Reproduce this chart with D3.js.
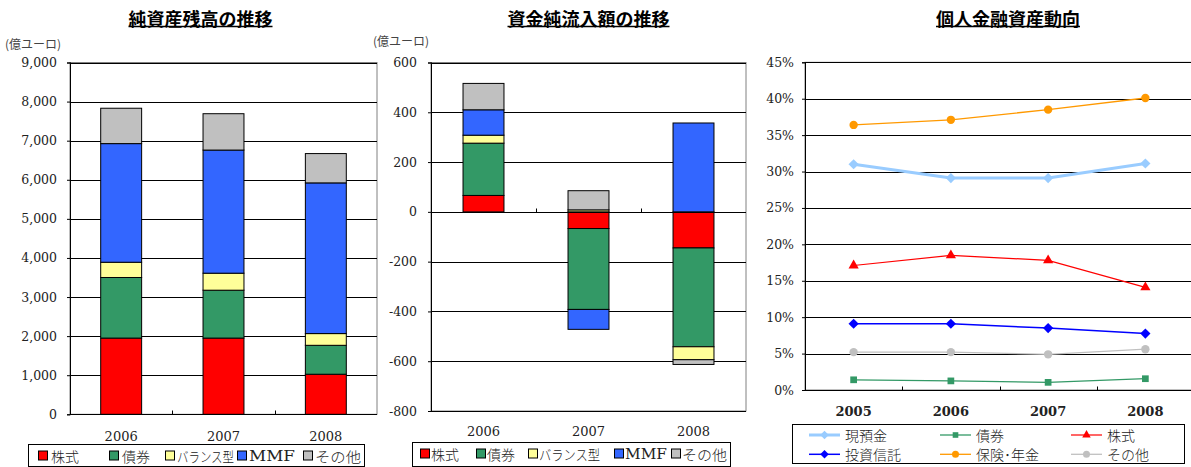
<!DOCTYPE html>
<html><head><meta charset="utf-8">
<script src="https://cdn.jsdelivr.net/npm/d3@7"></script>
<style>
body{margin:0;background:#fff;}
svg{display:block;}
</style></head>
<body>
<svg id="c" width="1191" height="467"></svg>
<script>
// ---------- data ----------
const categories1 = ["2006", "2007", "2008"];
const seriesNames = ["株式", "債券", "バランス型", "MMF", "その他"];
const seriesColors = ["#ff0000", "#339966", "#ffff99", "#3366ff", "#c0c0c0"];
// 純資産残高 (億ユーロ)
const stocks1 = [1950, 1950, 1025];
const bonds1 = [1550, 1225, 740];
const balanced1 = [390, 435, 300];
const mmf1 = [3035, 3150, 3855];
const other1 = [905, 930, 750];
const ticks1 = [0, 1000, 2000, 3000, 4000, 5000, 6000, 7000, 8000, 9000];
// 資金純流入額 (億ユーロ)
const stocks2 = [66, -67, -145];
const bonds2 = [210, -325, -397];
const balanced2 = [32, 8, -52];
const mmf2 = [102, -80, 357];
const other2 = [106, 77, -19];
const ticks2 = [-800, -600, -400, -200, 0, 200, 400, 600];
// 個人金融資産動向 (%)
const years3 = ["2005", "2006", "2007", "2008"];
const lineNames = ["現預金", "債券", "株式", "投資信託", "保険･年金", "その他"];
const cash3 = [31.0, 29.1, 29.1, 31.1];
const bonds3 = [1.4, 1.25, 1.05, 1.55];
const equities3 = [17.1, 18.5, 17.8, 14.1];
const funds3 = [9.1, 9.1, 8.5, 7.75];
const insurance3 = [36.4, 37.1, 38.5, 40.1];
const others3 = [5.2, 5.2, 4.9, 5.6];
const ticks3 = [0, 5, 10, 15, 20, 25, 30, 35, 40, 45];

// ---------- helpers ----------
const svg = d3.select("#c");
const JP = "'Noto Sans CJK JP', sans-serif";
const NUM = "'DejaVu Serif', 'Liberation Serif', serif";

function title(x, y, text) {
  const t = svg.append("text").attr("x", x).attr("y", y).attr("text-anchor", "middle")
    .style("font-family", JP).attr("font-weight", "bold").attr("font-size", 18)
    .attr("dominant-baseline", "central").text(text);
  const w = t.node().getComputedTextLength();
  svg.append("line").attr("x1", x - w / 2).attr("x2", x + w / 2)
    .attr("y1", y + 9).attr("y2", y + 9).attr("stroke", "#000").attr("stroke-width", 1.5);
}

function stackedChart(cfg) {
  const { left, right, top, bottom, domain, ticks, data, pin, pout, fmt, tickLabelX, xLabelY } = cfg;
  const x = d3.scaleBand().domain(categories1).range([left, right]).paddingInner(pin).paddingOuter(pout);
  const y = d3.scaleLinear().domain(domain).range([bottom, top]);
  const g = svg.append("g");
  g.append("rect").attr("x", left).attr("y", top).attr("width", right - left).attr("height", bottom - top)
    .attr("fill", "#fff").attr("stroke", "#808080").attr("stroke-width", 1);
  g.selectAll(".grid").data(ticks).join("line")
    .attr("x1", left).attr("x2", right)
    .attr("y1", d => Math.round(y(d)) + 0.5).attr("y2", d => Math.round(y(d)) + 0.5)
    .attr("stroke", "#000").attr("stroke-width", 1);
  const ya = d3.axisLeft(y).tickValues(ticks).tickSize(3).tickFormat(fmt);
  const yg = g.append("g").attr("transform", `translate(${left},0)`).call(ya);
  yg.attr("font-family", null);
  yg.select(".domain").attr("stroke", "#000");
  yg.selectAll("text").style("font-family", NUM).style("font-size", "12.5px").attr("fill", "#222")
    .attr("x", tickLabelX - left).attr("text-anchor", "end");
  const table = categories1.map((c, i) => {
    const o = { cat: c };
    seriesNames.forEach((s, k) => o[s] = data[k][i]);
    return o;
  });
  const stack = d3.stack().keys(seriesNames).offset(d3.stackOffsetDiverging)(table);
  stack.forEach((layer, k) => {
    g.selectAll(null).data(layer).join("rect")
      .attr("x", d => x(d.data.cat))
      .attr("width", x.bandwidth())
      .attr("y", d => y(Math.max(d[0], d[1])))
      .attr("height", d => Math.abs(y(d[0]) - y(d[1])))
      .attr("fill", seriesColors[k]).attr("stroke", "#000").attr("stroke-width", 1);
  });
  const y0 = Math.round(y(0)) + 0.5;
  g.append("line").attr("x1", left).attr("x2", right).attr("y1", y0).attr("y2", y0).attr("stroke", "#000");
  const bounds = [1, 2].map(i => left + (right - left) * i / 3);
  g.selectAll(null).data(bounds).join("line")
    .attr("x1", d => Math.round(d) + 0.5).attr("x2", d => Math.round(d) + 0.5)
    .attr("y1", y0 - 4).attr("y2", y0).attr("stroke", "#000");
  g.append("line").attr("x1", left + 0.5).attr("x2", left + 0.5).attr("y1", top).attr("y2", bottom).attr("stroke", "#000");
  g.selectAll(null).data(categories1).join("text")
    .attr("x", d => x(d) + x.bandwidth() / 2).attr("y", xLabelY)
    .attr("text-anchor", "middle").attr("dominant-baseline", "central")
    .style("font-family", NUM).style("font-size", "13px").attr("fill", "#222").text(d => d);
}

function boxLegend(cfg) {
  const { x0, y0, w, h, items, cy, fs } = cfg;
  svg.append("rect").attr("x", x0 + 0.5).attr("y", y0 + 0.5).attr("width", w).attr("height", h)
    .attr("fill", "#fff").attr("stroke", "#000").attr("stroke-width", 1);
  items.forEach((it, k) => {
    svg.append("rect").attr("x", it.sx + 0.5).attr("y", cy - 5 + 0.5).attr("width", 9).attr("height", 9)
      .attr("fill", seriesColors[k]).attr("stroke", "#000").attr("stroke-width", 1);
    const t = svg.append("text").attr("x", it.tx).attr("y", cy).attr("dominant-baseline", "central")
      .style("font-family", seriesNames[k] === "MMF" ? NUM : JP).style("font-size", fs + "px")
      .attr("font-weight", seriesNames[k] === "MMF" ? "normal" : "300")
      .attr("fill", "#222").text(seriesNames[k]);
    if (it.len) t.attr("textLength", it.len).attr("lengthAdjust", "spacingAndGlyphs");
  });
}

// ---------- chart 1 ----------
title(200.5, 17.5, "純資産残高の推移");
svg.append("text").attr("x", 5).attr("y", 43.5).attr("dominant-baseline", "central")
  .style("font-family", JP).style("font-size", "12px").attr("fill", "#444").text("(億ユーロ)");
stackedChart({
  left: 70, right: 377, top: 62.5, bottom: 414.3, domain: [0, 9000], ticks: ticks1,
  data: [stocks1, bonds1, balanced1, mmf1, other1], pin: 0.6, pout: 0.3,
  fmt: d3.format(","), tickLabelX: 57, xLabelY: 436.5
});
boxLegend({
  x0: 28, y0: 444, w: 336, h: 22, cy: 455.5, fs: 14,
  items: [{ sx: 38, tx: 51 }, { sx: 109, tx: 122 }, { sx: 165, tx: 177, len: 57 }, { sx: 237, tx: 249, len: 46 }, { sx: 303, tx: 315, len: 46 }]
});

// ---------- chart 2 ----------
title(588.5, 17.5, "資金純流入額の推移");
svg.append("text").attr("x", 373).attr("y", 40.5).attr("dominant-baseline", "central")
  .style("font-family", JP).style("font-size", "12px").attr("fill", "#444").text("(億ユーロ)");
stackedChart({
  left: 431, right: 746, top: 62.5, bottom: 411, domain: [-800, 600], ticks: ticks2,
  data: [stocks2, bonds2, balanced2, mmf2, other2], pin: 0.61, pout: 0.305,
  fmt: d => (d < 0 ? "-" + Math.abs(d) : String(d)), tickLabelX: 417, xLabelY: 431.5
});
boxLegend({
  x0: 412, y0: 442, w: 318, h: 24, cy: 453.5, fs: 14,
  items: [{ sx: 420, tx: 431 }, { sx: 476, tx: 487 }, { sx: 528, tx: 539, len: 61 }, { sx: 614, tx: 625, len: 42 }, { sx: 671, tx: 682, len: 45 }]
});

// ---------- chart 3 ----------
title(1008, 17.5, "個人金融資産動向");
(function () {
  const left = 805, right = 1194, top = 62.3, bottom = 390;
  const x = d3.scaleBand().domain(years3).range([left, right]);
  const y = d3.scaleLinear().domain([0, 45]).range([bottom, top]);
  const g = svg.append("g");
  g.append("rect").attr("x", left).attr("y", top).attr("width", right - left).attr("height", bottom - top)
    .attr("fill", "#fff").attr("stroke", "#808080");
  g.selectAll(null).data(ticks3).join("line")
    .attr("x1", left).attr("x2", right)
    .attr("y1", d => Math.round(y(d)) + 0.5).attr("y2", d => Math.round(y(d)) + 0.5)
    .attr("stroke", "#000");
  const ya = d3.axisLeft(y).tickValues(ticks3).tickSize(3).tickFormat(d => d + "%");
  const yg = g.append("g").attr("transform", `translate(${left},0)`).call(ya);
  yg.attr("font-family", null);
  yg.select(".domain").attr("stroke", "#000");
  yg.selectAll("text").style("font-family", NUM).style("font-size", "12.5px").attr("fill", "#222")
    .attr("x", 794 - left).attr("text-anchor", "end");
  g.append("line").attr("x1", left + 0.5).attr("x2", left + 0.5).attr("y1", top).attr("y2", bottom).attr("stroke", "#000");
  const yb = Math.round(y(0)) + 0.5;
  g.append("line").attr("x1", left).attr("x2", right).attr("y1", yb).attr("y2", yb).attr("stroke", "#000");
  g.selectAll(null).data(years3.slice(1)).join("line")
    .attr("x1", d => Math.round(x(d)) + 0.5).attr("x2", d => Math.round(x(d)) + 0.5)
    .attr("y1", yb - 4).attr("y2", yb).attr("stroke", "#000");
  g.selectAll(null).data(years3).join("text")
    .attr("x", d => x(d) + x.bandwidth() / 2).attr("y", 411.5)
    .attr("text-anchor", "middle").attr("dominant-baseline", "central")
    .style("font-family", NUM).attr("font-weight", "bold").style("font-size", "13px").attr("fill", "#222").text(d => d);

  const lines = [
    { name: lineNames[0], vals: cash3, color: "#99ccff", w: 3, sym: "diamond", size: 52 },
    { name: lineNames[1], vals: bonds3, color: "#339966", w: 1.3, sym: "square", size: 45 },
    { name: lineNames[2], vals: equities3, color: "#ff0000", w: 1.2, sym: "triangle", size: 45 },
    { name: lineNames[3], vals: funds3, color: "#0000ff", w: 1.5, sym: "diamond", size: 52 },
    { name: lineNames[4], vals: insurance3, color: "#ff9900", w: 1.3, sym: "circle", size: 55 },
    { name: lineNames[5], vals: others3, color: "#c0c0c0", w: 1.3, sym: "circle", size: 55 }
  ];
  const symType = { diamond: d3.symbolSquare, square: d3.symbolSquare, triangle: d3.symbolTriangle, circle: d3.symbolCircle };
  const symPath = (L, scale) => d3.symbol().type(symType[L.sym]).size(L.size * scale)();
  const rot = L => (L.sym === "diamond" ? " rotate(45)" : "");
  const cx = d => x(d) + x.bandwidth() / 2;
  const line = d3.line().x((v, i) => cx(years3[i])).y(v => y(v));
  lines.forEach(L => {
    g.append("path").attr("d", line(L.vals)).attr("fill", "none").attr("stroke", L.color).attr("stroke-width", L.w);
    g.selectAll(null).data(L.vals).join("path")
      .attr("transform", (v, i) => `translate(${cx(years3[i])},${y(v)})${rot(L)}`)
      .attr("d", symPath(L, 1)).attr("fill", L.color);
  });

  svg.append("rect").attr("x", 792.5).attr("y", 424.5).attr("width", 392).attr("height", 39)
    .attr("fill", "#fff").attr("stroke", "#000");
  const cols = [809, 940, 1071];
  const rows = [435, 454.3];
  lines.forEach((L, k) => {
    const lx = cols[k % 3], ly = rows[Math.floor(k / 3)];
    svg.append("line").attr("x1", lx).attr("x2", lx + 31).attr("y1", ly).attr("y2", ly)
      .attr("stroke", L.color).attr("stroke-width", L.w);
    svg.append("path").attr("transform", `translate(${lx + 15.5},${ly})${rot(L)}`)
      .attr("d", symPath(L, 0.7)).attr("fill", L.color);
    svg.append("text").attr("x", lx + 36).attr("y", ly).attr("dominant-baseline", "central")
      .style("font-family", JP).style("font-size", "14px").attr("font-weight", "300").attr("fill", "#222").text(L.name);
  });
})();
</script>
</body></html>
